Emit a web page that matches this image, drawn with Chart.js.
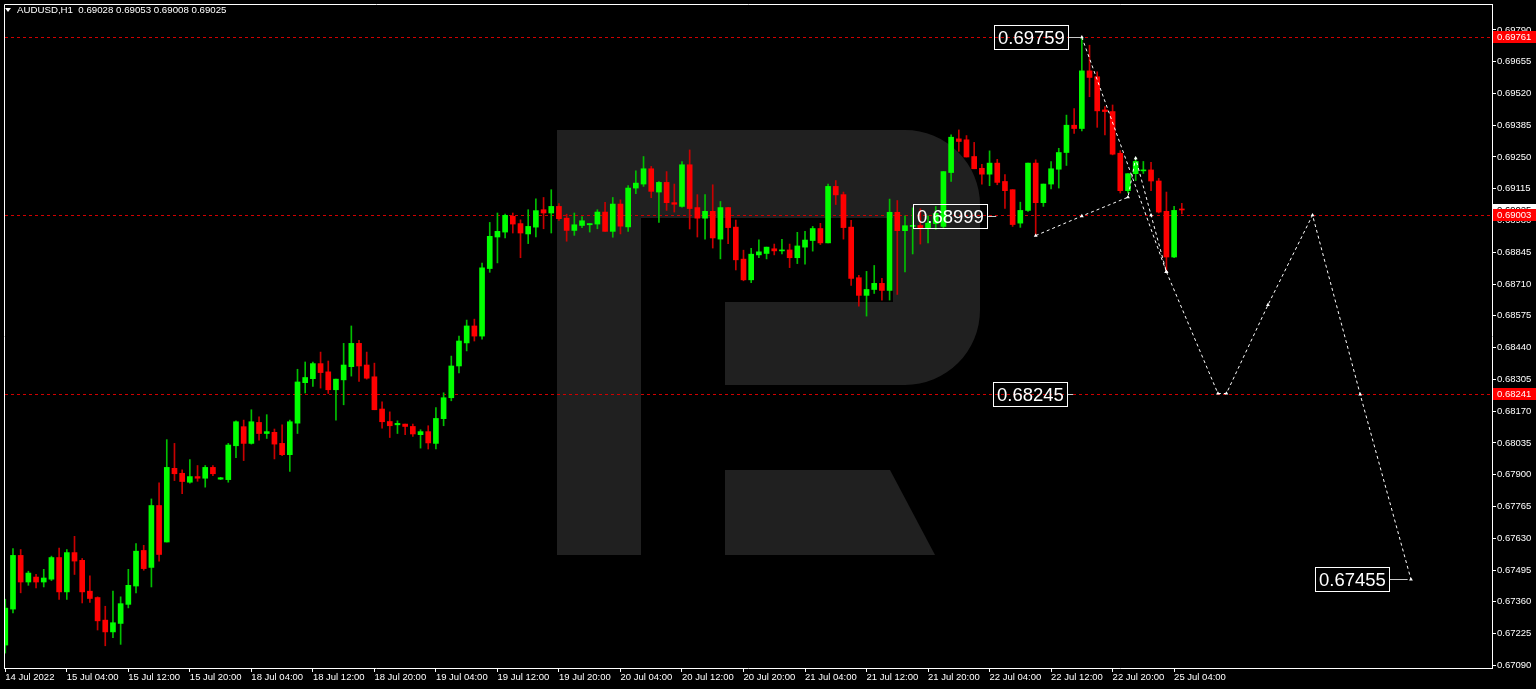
<!DOCTYPE html>
<html><head><meta charset="utf-8">
<script src="https://cdn.jsdelivr.net/npm/chart.js@4.4.1/dist/chart.umd.min.js"></script>
<style>html,body{margin:0;padding:0;background:#000;overflow:hidden}canvas{display:block}</style>
</head><body>
<canvas id="c" width="1536" height="689" style="width:1536px;height:689px"></canvas>
<script>
const symbolTitle = 'AUDUSD,H1';
const opens = [0.67176,0.67329,0.67557,0.67444,0.67465,0.67444,0.67456,0.67548,0.67402,0.67569,
0.67536,0.67405,0.67378,0.67282,0.67232,0.67268,0.67349,0.67427,0.67578,0.67506,
0.67769,0.67614,0.67927,0.67906,0.67868,0.67892,0.67885,0.67931,0.67881,0.67879,
0.68023,0.68104,0.68033,0.68122,0.68075,0.68080,0.68033,0.67985,0.68119,0.68291,
0.68308,0.68372,0.68337,0.68261,0.68303,0.68359,0.68458,0.68366,0.68316,0.68179,
0.68126,0.68112,0.68115,0.68105,0.68070,0.68083,0.68033,0.68138,0.68227,0.68362,
0.68460,0.68532,0.68489,0.68776,0.68910,0.68931,0.68998,0.68967,0.68923,0.68952,
0.69026,0.69012,0.69040,0.68990,0.68938,0.68959,0.68962,0.68965,0.69016,0.68934,
0.69050,0.68953,0.69118,0.69135,0.69200,0.69101,0.69142,0.69056,0.69040,0.69217,
0.69035,0.68990,0.69019,0.68901,0.69035,0.68952,0.68816,0.68728,0.68834,0.68840,
0.68860,0.68851,0.68855,0.68822,0.68867,0.68895,0.68946,0.68885,0.69125,0.69090,
0.68952,0.68737,0.68662,0.68687,0.68713,0.68683,0.69015,0.68937,0.68955,0.68959,
0.68948,0.68967,0.68955,0.69184,0.69327,0.69323,0.69252,0.69202,0.69177,0.69224,
0.69146,0.69111,0.68969,0.69023,0.69224,0.69056,0.69135,0.69198,0.69269,0.69385,
0.69371,0.69616,0.69591,0.69450,0.69443,0.69266,0.69107,0.69179,0.69191,0.69195,
0.69148,0.69019,0.68825,0.69028];
const highs = [0.67371,0.67586,0.67582,0.67490,0.67477,0.67498,0.67554,0.67588,0.67582,0.67638,
0.67544,0.67470,0.67381,0.67341,0.67405,0.67381,0.67498,0.67607,0.67600,0.67797,
0.67865,0.68049,0.68033,0.67921,0.67964,0.67939,0.67939,0.67939,0.67889,0.68033,
0.68129,0.68132,0.68176,0.68146,0.68155,0.68094,0.68112,0.68132,0.68348,0.68379,
0.68379,0.68421,0.68383,0.68306,0.68458,0.68532,0.68471,0.68421,0.68374,0.68210,
0.68167,0.68129,0.68115,0.68115,0.68091,0.68108,0.68185,0.68248,0.68404,0.68489,
0.68557,0.68561,0.68799,0.68972,0.69012,0.69007,0.69012,0.68983,0.69026,0.69072,
0.69078,0.69111,0.69052,0.69007,0.69012,0.68997,0.68967,0.69026,0.69057,0.69078,
0.69068,0.69128,0.69191,0.69252,0.69210,0.69146,0.69188,0.69135,0.69231,0.69280,
0.69090,0.69090,0.69132,0.69061,0.69036,0.68982,0.68854,0.68862,0.68898,0.68867,
0.68880,0.68900,0.68880,0.68930,0.68934,0.68955,0.68968,0.69135,0.69150,0.69101,
0.68981,0.68747,0.68764,0.68789,0.68734,0.69071,0.69065,0.69000,0.69034,0.69030,
0.69000,0.69040,0.69188,0.69344,0.69365,0.69341,0.69312,0.69219,0.69276,0.69240,
0.69175,0.69111,0.69058,0.69224,0.69238,0.69135,0.69231,0.69287,0.69428,0.69456,
0.69758,0.69725,0.69612,0.69464,0.69471,0.69277,0.69179,0.69248,0.69231,0.69227,
0.69159,0.69101,0.69040,0.69053];
const lows = [0.67142,0.67313,0.67398,0.67430,0.67419,0.67423,0.67450,0.67370,0.67370,0.67476,
0.67355,0.67357,0.67240,0.67173,0.67207,0.67179,0.67334,0.67398,0.67494,0.67423,
0.67533,0.67614,0.67875,0.67819,0.67864,0.67872,0.67847,0.67896,0.67879,0.67868,
0.67972,0.67960,0.68030,0.68047,0.68054,0.67967,0.67981,0.67914,0.68075,0.68247,
0.68275,0.68268,0.68245,0.68132,0.68197,0.68319,0.68296,0.68306,0.68176,0.68098,
0.68058,0.68075,0.68070,0.68063,0.68013,0.68009,0.68009,0.68108,0.68214,0.68332,
0.68426,0.68468,0.68476,0.68760,0.68800,0.68906,0.68927,0.68822,0.68882,0.68910,
0.68945,0.68927,0.68980,0.68892,0.68917,0.68950,0.68931,0.68945,0.68934,0.68909,
0.68923,0.68934,0.69094,0.69125,0.69077,0.68972,0.69023,0.69016,0.69037,0.68944,
0.68910,0.68901,0.68863,0.68817,0.68882,0.68770,0.68724,0.68716,0.68822,0.68817,
0.68834,0.68838,0.68780,0.68797,0.68795,0.68850,0.68878,0.68885,0.69048,0.68901,
0.68704,0.68616,0.68574,0.68670,0.68642,0.68642,0.68666,0.68762,0.68838,0.68880,
0.68885,0.68942,0.68948,0.69146,0.69274,0.69250,0.69200,0.69135,0.69128,0.69132,
0.69031,0.68955,0.68951,0.69019,0.68916,0.69040,0.69114,0.69118,0.69214,0.69350,
0.69361,0.69506,0.69376,0.69344,0.69259,0.69097,0.69097,0.69150,0.69180,0.69107,
0.69012,0.68762,0.68822,0.69008];
const closes = [0.67333,0.67557,0.67444,0.67482,0.67444,0.67461,0.67548,0.67402,0.67569,0.67533,
0.67402,0.67374,0.67279,0.67232,0.67271,0.67352,0.67430,0.67575,0.67501,0.67769,
0.67561,0.67931,0.67904,0.67871,0.67892,0.67885,0.67931,0.67904,0.67887,0.68026,
0.68125,0.68033,0.68125,0.68075,0.68083,0.68030,0.67985,0.68125,0.68294,0.68313,
0.68372,0.68334,0.68261,0.68306,0.68366,0.68458,0.68362,0.68310,0.68176,0.68125,
0.68108,0.68118,0.68105,0.68073,0.68083,0.68035,0.68139,0.68227,0.68362,0.68468,
0.68532,0.68489,0.68779,0.68913,0.68934,0.69002,0.68965,0.68927,0.68955,0.69022,
0.69012,0.69040,0.68988,0.68938,0.68962,0.68979,0.68967,0.69016,0.68934,0.69050,
0.68956,0.69118,0.69139,0.69200,0.69104,0.69142,0.69056,0.69049,0.69217,0.69031,
0.68990,0.69019,0.68906,0.69035,0.68950,0.68813,0.68728,0.68837,0.68847,0.68867,
0.68851,0.68855,0.68822,0.68872,0.68897,0.68946,0.68885,0.69125,0.69089,0.68950,
0.68734,0.68662,0.68687,0.68713,0.68683,0.69015,0.68937,0.68958,0.68959,0.68948,
0.68969,0.69010,0.69188,0.69334,0.69316,0.69250,0.69200,0.69177,0.69224,0.69142,
0.69107,0.68963,0.69023,0.69224,0.69056,0.69135,0.69200,0.69269,0.69385,0.69371,
0.69616,0.69588,0.69446,0.69443,0.69262,0.69107,0.69179,0.69231,0.69195,0.69148,
0.69016,0.68825,0.69023,0.69025];

const xTickIdx = [0,8,16,24,32,40,48,56,64,72,80,88,96,104,112,120,128,136,144,152];
const xTickLabels = ['14 Jul 2022','15 Jul 04:00','15 Jul 12:00','15 Jul 20:00','18 Jul 04:00','18 Jul 12:00','18 Jul 20:00',
 '19 Jul 04:00','19 Jul 12:00','19 Jul 20:00','20 Jul 04:00','20 Jul 12:00','20 Jul 20:00','21 Jul 04:00','21 Jul 12:00',
 '21 Jul 20:00','22 Jul 04:00','22 Jul 12:00','22 Jul 20:00','25 Jul 04:00'];
const yTickValues = [0.67090,0.67225,0.67360,0.67495,0.67630,0.67765,0.67900,0.68035,0.68170,0.68305,0.68440,
 0.68575,0.68710,0.68845,0.68980,0.69115,0.69250,0.69385,0.69520,0.69655,0.69790];

const levelPrices = [0.69761, 0.69003, 0.68241];
const currentPrice = 0.69025;
const annValues = [0.69759, 0.68999, 0.68245, 0.67455];
const annAnchorIdx = [140, 129, 139, 182.5];

const waveIdx   = [134, 140, 146, 147, 149, 151];
const wavePrice = [0.68916, 0.68999, 0.69079, 0.69245, 0.69003, 0.68762];
const topLegIdx   = [140, 151];
const topLegPrice = [0.69759, 0.68762];
const forecastIdx   = [151, 157.7, 158.8, 164.2, 170, 176.2, 182.8];
const forecastPrice = [0.68762, 0.68245, 0.68245, 0.68621, 0.69003, 0.68241, 0.67455];

// ---------- build ----------
const FONT = "'Liberation Sans', Arial, sans-serif";
const idx = opens.map((_, i) => i);
const bull = idx.map(i => closes[i] >= opens[i]);
const bodyData = idx.map(i => ({x: i, y: [opens[i], closes[i]]}));
const wickData = idx.map(i => ({x: i, y: [lows[i], highs[i]]}));
const pts = (a, b) => a.map((v, k) => ({x: v, y: b[k]}));

const lineStyle = {
  type: 'line', borderColor: '#ffffff', borderWidth: 1, borderDash: [3, 3], fill: false, tension: 0,
  pointRadius: 2.2, pointStyle: 'triangle', pointBackgroundColor: '#ffffff', pointBorderColor: '#ffffff',
  pointBorderWidth: 0, order: -1
};

const watermark = {
  id: 'watermark',
  beforeDatasetsDraw(chart) {
    const c = chart.ctx;
    c.save();
    c.fillStyle = '#202020';
    c.fillRect(557, 130, 84, 425);
    c.beginPath();
    c.moveTo(557, 130); c.lineTo(905, 130);
    c.arcTo(980, 130, 980, 205, 75);
    c.lineTo(980, 310);
    c.arcTo(980, 385, 905, 385, 75);
    c.lineTo(557, 385); c.closePath();
    c.moveTo(641, 218); c.lineTo(893, 218); c.lineTo(893, 302); c.lineTo(725, 302);
    c.lineTo(725, 385); c.lineTo(641, 385); c.closePath();
    c.fill('evenodd');
    c.beginPath();
    c.moveTo(725, 470); c.lineTo(890, 470); c.lineTo(935, 555); c.lineTo(725, 555); c.closePath();
    c.fill();
    const ys = chart.scales.y, a = chart.chartArea;
    c.strokeStyle = '#d00000'; c.lineWidth = 1; c.setLineDash([3, 3]);
    levelPrices.forEach(p => {
      const y = Math.round(ys.getPixelForValue(p)) + 0.5;
      c.beginPath(); c.moveTo(a.left + 1, y); c.lineTo(a.right, y); c.stroke();
    });
    c.restore();
  }
};

const overlay = {
  id: 'overlay',
  afterDraw(chart) {
    const c = chart.ctx, xs = chart.scales.x, ys = chart.scales.y, a = chart.chartArea;
    c.save();
    c.strokeStyle = '#ffffff'; c.lineWidth = 1;
    c.beginPath(); c.moveTo(a.left + 0.5, a.bottom); c.lineTo(a.left + 0.5, a.top + 0.5); c.lineTo(a.right, a.top + 0.5); c.stroke();
    c.fillStyle = '#ffffff';
    c.beginPath(); c.moveTo(5, 8); c.lineTo(11, 8); c.lineTo(8, 12); c.closePath(); c.fill();
    c.font = '9.7px ' + FONT; c.textBaseline = 'middle'; c.textAlign = 'left';
    const n = opens.length - 1;
    c.fillText(symbolTitle + '  ' + [opens[n], highs[n], lows[n], closes[n]].map(v => v.toFixed(5)).join(' '), 17, 10);
    const drawTag = (p, bg, fg) => {
      const y = Math.round(ys.getPixelForValue(p));
      c.fillStyle = bg; c.fillRect(a.right + 1, y - 6, 43, 12);
      c.fillStyle = fg; c.font = '9.5px ' + FONT; c.textBaseline = 'middle'; c.textAlign = 'left';
      c.fillText(p.toFixed(5), a.right + 5, y + 0.5);
    };
    drawTag(currentPrice, '#ffffff', '#000000');
    levelPrices.forEach(p => drawTag(p, '#ff0000', '#ffffff'));
    const gaps = [14, 10, 7, 20];
    c.font = '18.5px ' + FONT;
    annValues.forEach((v, k) => {
      const ax = xs.getPixelForValue(annAnchorIdx[k]);
      const ay = Math.round(ys.getPixelForValue(v)) + 0.5;
      const txt = v.toFixed(5);
      const w = Math.round(c.measureText(txt).width) + 7;
      const right = Math.round(ax - gaps[k]) + 0.5;
      const left = right - w;
      c.strokeStyle = '#c8c8c8'; c.lineWidth = 1; c.setLineDash([]);
      c.beginPath(); c.moveTo(right, ay); c.lineTo(ax - 1, ay); c.stroke();
      c.strokeStyle = '#ffffff';
      c.strokeRect(left, ay - 12, w, 24);
      c.fillStyle = '#ffffff'; c.textAlign = 'left'; c.textBaseline = 'middle';
      c.fillText(txt, left + 3.5, ay + 1);
    });
    c.restore();
  }
};

new Chart(document.getElementById('c'), {
  type: 'bar',
  data: {
    datasets: [
      {type: 'bar', data: bodyData, backgroundColor: bull.map(b => b ? '#00ff00' : '#ff0000'),
       barThickness: 5, minBarLength: 1, grouped: false, borderWidth: 0, order: 1},
      {type: 'bar', data: wickData, backgroundColor: bull.map(b => b ? '#00c000' : '#c80000'),
       barThickness: 1, grouped: false, borderWidth: 0, order: 2},
      Object.assign({data: pts(waveIdx, wavePrice)}, lineStyle),
      Object.assign({data: pts(topLegIdx, topLegPrice)}, lineStyle),
      Object.assign({data: pts(forecastIdx, forecastPrice)}, lineStyle)
    ]
  },
  options: {
    responsive: false, animation: false, devicePixelRatio: 1,
    layout: {padding: {left: 2, top: 2, right: 0, bottom: 0}},
    plugins: {legend: {display: false}, tooltip: {enabled: false}},
    scales: {
      x: {
        type: 'linear', min: -0.169, max: 193.34, offset: false,
        grid: {drawOnChartArea: false, drawTicks: true, tickLength: 4, color: '#ffffff', offset: false},
        border: {display: true, color: '#ffffff', width: 1},
        ticks: {color: '#ffffff', font: {family: FONT, size: 9.5}, align: 'start', padding: 0,
                maxRotation: 0, autoSkip: false,
                callback: v => { const k = xTickIdx.indexOf(v); return k >= 0 ? xTickLabels[k] : ''; }},
        afterBuildTicks: s => { s.ticks = xTickIdx.map(v => ({value: v})); },
        afterFit: s => { s.height = 21; s.paddingLeft = 0; s.paddingRight = 0; }
      },
      y: {
        type: 'linear', position: 'right', min: 0.670786, max: 0.699001,
        grid: {drawOnChartArea: false, drawTicks: true, tickLength: 4, color: '#ffffff'},
        border: {display: true, color: '#ffffff', width: 1},
        ticks: {color: '#ffffff', font: {family: FONT, size: 9.5}, padding: 1,
                callback: v => Number(v).toFixed(5)},
        afterBuildTicks: s => { s.ticks = yTickValues.map(v => ({value: v})); },
        afterFit: s => { s.width = 44; s.paddingTop = 0; s.paddingBottom = 0; }
      }
    }
  },
  plugins: [watermark, overlay]
});
</script>
</body></html>
